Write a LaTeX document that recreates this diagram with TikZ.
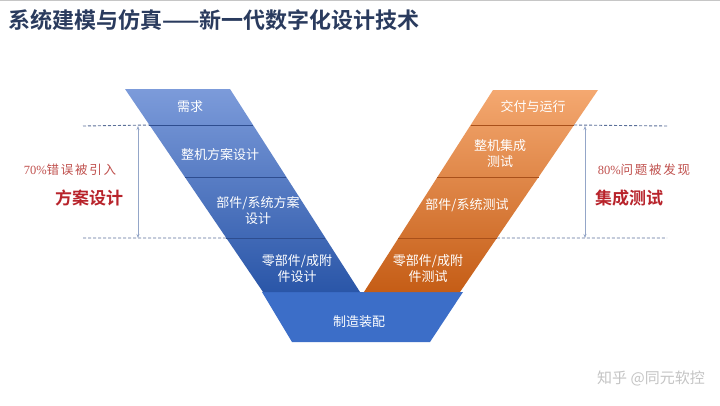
\documentclass[tikz,border=0pt]{standalone}
\usepackage{fontspec}
\setmainfont{Liberation Sans}
\newfontfamily\cjk{Noto Sans CJK SC}
\newfontfamily\cjkb{Noto Sans CJK SC Bold}
\newfontfamily\cjkwide[LetterSpace=14]{Noto Sans CJK SC}
\newfontfamily\serifnum{Liberation Serif}
\usetikzlibrary{calc,arrows.meta}
\definecolor{titleblue}{HTML}{2A3B5E}
\definecolor{bluetop}{HTML}{7C9BDA}
\definecolor{bluebot}{HTML}{2A56A8}
\definecolor{blueline}{HTML}{2E4D8F}
\definecolor{bandside}{HTML}{3C6EC8}
\definecolor{bandmid}{HTML}{27498E}
\definecolor{orgtop}{HTML}{F4A870}
\definecolor{orgbot}{HTML}{C55D16}
\definecolor{orgline}{HTML}{A9501A}
\definecolor{dashcol}{HTML}{5B7099}
\definecolor{arrcol}{HTML}{94A6C8}
\definecolor{redlight}{HTML}{C0504D}
\definecolor{reddark}{HTML}{B8232B}
\definecolor{wmgray}{HTML}{C4C4C4}
\tikzset{
  bandtxt/.style={text=white, font=\cjk\fontsize{13}{16}\selectfont, align=center, inner sep=0pt},
  dashln/.style={draw=dashcol, dash pattern=on 3pt off 2pt, line width=0.9pt},
  spanarr/.style={draw=arrcol, line width=0.8pt, {Stealth[length=4pt,width=3pt]}-{Stealth[length=4pt,width=3pt]}},
  notetxt/.style={text=redlight, font=\cjkwide\fontsize{12.5}{14}\selectfont, inner sep=0pt},
  phasetxt/.style={text=reddark, font=\cjkb\fontsize{17}{19}\selectfont, inner sep=0pt},
}
\begin{document}
\begin{tikzpicture}[x=1pt,y=-1pt]
\useasboundingbox (0,0) rectangle (720,405);
\fill[white] (0,0) rectangle (720,405);
\draw[gray!45, line width=1.2pt] (0,0.6) -- (720,0.6);
% title
\node[anchor=west, inner sep=0pt, text=titleblue, font=\cjkb\fontsize{22}{24}\selectfont] (title) at (8,20) {系统建模与仿真——新一代数字化设计技术};
% bottom band
\coordinate (BLT) at (262,292);
\coordinate (BRT) at (463,292);
\coordinate (BRB) at (430,342);
\coordinate (BLB) at (292,342);
\shade[left color=bandside, middle color=bandmid, right color=bandside] (BLT) -- (BRT) -- (BRB) -- (BLB) -- cycle;
% left arm
\coordinate (LT) at (125,89);
\coordinate (RT) at (230,89);
\coordinate (RB) at (360,292);
\coordinate (LB) at (263,292);
\shade[top color=bluetop, bottom color=bluebot] (LT) -- (RT) -- (RB) -- (LB) -- cycle;
\foreach \t/\n in {0.1773/a,0.4335/b,0.7340/c}{
  \coordinate (L\n) at ($(LT)!\t!(LB)$);
  \coordinate (R\n) at ($(RT)!\t!(RB)$);
  \draw[blueline, line width=0.7pt] (L\n) -- (R\n);
}
% right arm
\coordinate (OLT) at (493,90);
\coordinate (ORT) at (598,90);
\coordinate (ORB) at (460,292);
\coordinate (OLB) at (364,292);
\shade[top color=orgtop, bottom color=orgbot] (OLT) -- (ORT) -- (ORB) -- (OLB) -- cycle;
\foreach \t/\n in {0.1733/a,0.4307/b,0.7327/c}{
  \coordinate (OL\n) at ($(OLT)!\t!(OLB)$);
  \coordinate (OR\n) at ($(ORT)!\t!(ORB)$);
  \draw[orgline, line width=0.7pt] (OL\n) -- (OR\n);
}
% band labels
\node[bandtxt] (n1) at (190,107) {需求};
\node[bandtxt] (n2) at (220,155) {整机方案设计};
\node[bandtxt] (n3) at (258,211) {部件/系统方案\\设计};
\node[bandtxt] (n4) at (297,269) {零部件/成附\\件设计};
\node[bandtxt] (n5) at (359,322) {制造装配};
\node[bandtxt] (m1) at (533,107) {交付与运行};
\node[bandtxt] (m2) at (500,154) {整机集成\\测试};
\node[bandtxt] (m3) at (467,205) {部件/系统测试};
\node[bandtxt] (m4) at (428,269) {零部件/成附\\件测试};
% left span
\coordinate (dl1) at (83,126);
\coordinate (dl2) at (83,238);
\draw[dashln] (dl1) -- (La);
\draw[dashln] (dl2) -- (Lc);
\coordinate (al1) at (138,126);
\coordinate (al2) at (138,238);
\draw[spanarr] (al1) -- (al2);
\node[notetxt] (e1) at (70,170) {{\serifnum\fontsize{12.5}{14}\selectfont 70\%}错误被引入};
\node[phasetxt] (p1) at (89,198) {方案设计};
% right span
\coordinate (dr1) at (667,126);
\coordinate (dr2) at (667,238);
\draw[dashln] (ORa) -- (dr1);
\draw[dashln] (ORc) -- (dr2);
\coordinate (ar1) at (585,126);
\coordinate (ar2) at (585,238);
\draw[spanarr] (ar1) -- (ar2);
\node[notetxt] (e2) at (644,170) {{\serifnum\fontsize{12.5}{14}\selectfont 80\%}问题被发现};
\node[phasetxt] (p2) at (629,198) {集成测试};
% watermark
\node[anchor=west, inner sep=0pt, text=wmgray, font=\cjk\fontsize{15}{17}\selectfont] (wm) at (597,378) {知乎 @同元软控};
\end{tikzpicture}
\end{document}
